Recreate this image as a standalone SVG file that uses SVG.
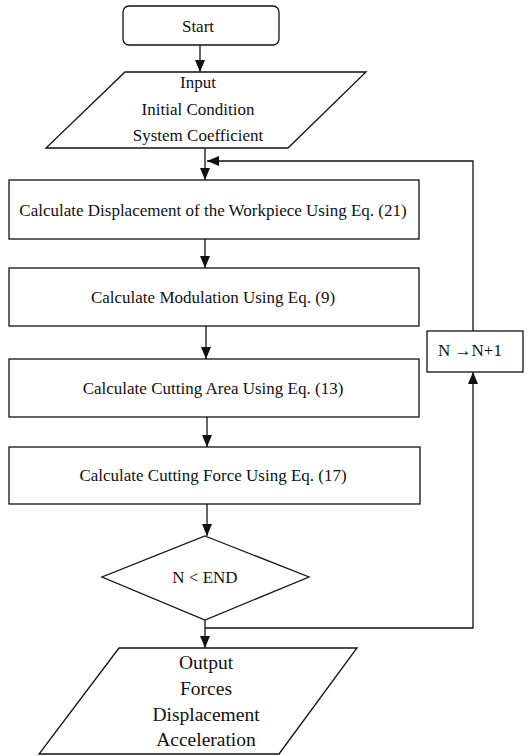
<svg xmlns="http://www.w3.org/2000/svg" width="530" height="756" viewBox="0 0 530 756">
<defs>
<marker id="arr" markerUnits="userSpaceOnUse" markerWidth="12" markerHeight="10" refX="12" refY="5" orient="auto">
<path d="M0,0 L12,5 L0,10 z" fill="#111"/>
</marker>
</defs>
<style>
.s{fill:#fff;stroke:#111;stroke-width:1.3}
.c{fill:none;stroke:#111;stroke-width:1.3;marker-end:url(#arr)}
text{font-family:'Liberation Serif','Times New Roman','DejaVu Serif',serif;font-size:17px;fill:#111;text-anchor:middle}
.big{font-size:19.5px}
</style>
<rect width="530" height="756" fill="#fff"/>
<g id="start">
<rect class="s" x="123" y="6" width="156" height="39" rx="6"/>
<text x="198" y="32">Start</text>
</g>
<g id="input">
<polygon class="s" points="125,72 366,72 288,148 46,148"/>
<text x="198" y="88">Input</text>
<text x="198" y="115">Initial Condition</text>
<text x="198" y="141">System Coefficient</text>
</g>
<g id="displacement">
<rect class="s" x="9" y="180" width="410" height="59"/>
<text x="213" y="216">Calculate Displacement of the Workpiece Using Eq. (21)</text>
</g>
<g id="modulation">
<rect class="s" x="9" y="268" width="410" height="58"/>
<text x="213" y="303">Calculate Modulation Using Eq. (9)</text>
</g>
<g id="area">
<rect class="s" x="9" y="359" width="410" height="58"/>
<text x="213" y="394">Calculate Cutting Area Using Eq. (13)</text>
</g>
<g id="force">
<rect class="s" x="9" y="447" width="411" height="57"/>
<text x="213" y="481">Calculate Cutting Force Using Eq. (17)</text>
</g>
<g id="decision">
<polygon class="s" points="205,536 309,577 205,620 102,577"/>
<text x="205" y="583">N &lt; END</text>
</g>
<g id="increment">
<rect class="s" x="427" y="331" width="96" height="41"/>
<text x="470" y="356">N →N+1</text>
</g>
<g id="output">
<polygon class="s" points="119,648 357,648 279,754 39,754"/>
<text class="big" x="206" y="669">Output</text>
<text class="big" x="206" y="695">Forces</text>
<text class="big" x="206" y="721">Displacement</text>
<text class="big" x="206" y="746">Acceleration</text>
</g>
<g id="connectors">
<path class="c" d="M200,45 V72"/>
<path class="c" d="M205,148 V180"/>
<path class="c" d="M205,239 V268"/>
<path class="c" d="M206,326 V359"/>
<path class="c" d="M207,417 V447"/>
<path class="c" d="M207,504 V536"/>
<path class="c" d="M205,620 V648"/>
<path class="c" d="M205,628 H473 V372"/>
<path class="c" d="M473,331 V161 H207"/>
</g>
</svg>
